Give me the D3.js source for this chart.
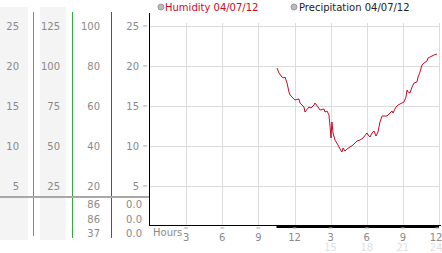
<!DOCTYPE html>
<html>
<head>
<meta charset="utf-8">
<script src="https://cdn.jsdelivr.net/npm/d3@7"></script>
<style>
  body { margin: 0; background: #fff; }
  svg { display: block; font-family: "DejaVu Sans", Verdana, sans-serif; }
</style>
</head>
<body>
<svg id="chart"></svg>
<script>
// humidity readings for 04/07/12 (hour of day, percent)
const humHours = [10.55,10.71,10.96,11.13,11.21,11.38,11.54,11.63,11.88,12.04,12.37,12.46,12.79,12.87,13.20,13.37,13.62,13.70,13.95,14.12,14.45,14.53,14.70,14.78,14.86,14.95,15.03,15.11,15.20,15.36,15.61,15.78,15.94,16.03,16.19,16.36,16.61,16.86,17.19,17.44,17.69,18.02,18.11,18.27,18.44,18.60,18.77,18.93,19.10,19.27,19.35,19.68,19.85,20.10,20.18,20.43,20.60,20.93,21.09,21.26,21.35,21.43,21.59,21.76,21.93,22.17,22.26,22.42,22.59,22.75,23.00,23.09,23.42,23.58,23.83]
const humValues = [79,76.5,74.5,74,74.5,71.5,67,65.5,64,63,63.5,61.5,59.5,57,59.5,59,60.5,61.5,59.5,58,58.5,57,57.5,56.5,55.5,50,44,52,46.5,43,40.5,38.5,37,39,37.5,38.5,39.5,40.5,42.5,43,44,46.5,45.5,44.5,46.5,47.5,45,47,52,55,55,55,56,57.5,56.5,59.5,60.5,61.5,62,64.5,68,67,66.5,69.5,71.5,72,74.5,77,80.5,81.5,82.5,84,85,85.5,86]

// precipitation (flat zero)
const precipHours = [10.5, 24]
const precipValues = [0, 0]

// axis columns
const col1Ticks = [5, 10, 15, 20, 25]
const col2Ticks = [25, 50, 75, 100, 125]
const col3Ticks = [20, 40, 60, 80, 100]
const col4Ticks = [5, 10, 15, 20, 25]
const humSummary = ["86", "86", "37"]
const precipSummary = ["0.0", "0.0", "0.0"]

const hourTicks = [3, 6, 9, 12, 15, 18, 21, 24]
const hourLabels = ["3", "6", "9", "12", "3", "6", "9", "12"]
const pmLabels = ["", "", "", "", "15", "18", "21", "24"]

const w = 442
const h = 253

const svg = d3.select('#chart').attr('width', w).attr('height', h)

const xScale = d3.scaleLinear().domain([0, 24]).range([150, 439])
const yScale = d3.scaleLinear().domain([0, 25]).range([226, 26])
const scale2 = d3.scaleLinear().domain([0, 125]).range([226, 26])
const humScale = d3.scaleLinear().domain([0, 100]).range([226, 26])

const grey = '#8a8a8a'

// left panel backgrounds
svg.append('rect').attr('x', 0).attr('y', 7).attr('width', 28).attr('height', 233).attr('fill', '#f4f4f4')
svg.append('rect').attr('x', 40).attr('y', 7).attr('width', 26).attr('height', 233).attr('fill', '#f4f4f4')

// coloured separators
const seps = [[33, '#2fa6d0', 236], [72, '#2bb03a', 238], [111, '#c2262e', 238]]
seps.forEach(s => {
  svg.append('line').attr('x1', s[0] + 0.5).attr('x2', s[0] + 0.5)
    .attr('y1', 12).attr('y2', s[2]).attr('stroke', s[1]).attr('stroke-width', 1)
})

// grey horizontal divider across panels
svg.append('line').attr('x1', 0).attr('x2', 150).attr('y1', 197).attr('y2', 197)
  .attr('stroke', '#a8a8a8').attr('stroke-width', 2)

let tickCol = (ticks, scale, xRight) => {
  svg.selectAll(null).data(ticks).enter().append('text')
    .attr('x', xRight).attr('y', d => scale(d))
    .attr('dy', '0.35em').attr('text-anchor', 'end')
    .attr('font-size', 10).attr('fill', grey)
    .text(d => d)
}
tickCol(col1Ticks, yScale, 19)
tickCol(col2Ticks, scale2, 60)
tickCol(col3Ticks, humScale, 100)
tickCol(col4Ticks, yScale, 139)

// little tick marks next to the last column
svg.selectAll(null).data(col4Ticks).enter().append('text')
  .attr('x', 145).attr('y', d => yScale(d)).attr('dy', '0.35em')
  .attr('text-anchor', 'middle').attr('font-size', 6).attr('fill', '#aaa')
  .text('≈')

// summary rows
const rowY = [204, 219, 233]
svg.selectAll(null).data(humSummary).enter().append('text')
  .attr('x', 100).attr('y', (d, i) => rowY[i]).attr('dy', '0.35em')
  .attr('text-anchor', 'end').attr('font-size', 10).attr('fill', grey).text(d => d)
svg.selectAll(null).data(precipSummary).enter().append('text')
  .attr('x', 142).attr('y', (d, i) => rowY[i]).attr('dy', '0.35em')
  .attr('text-anchor', 'end').attr('font-size', 10).attr('fill', grey).text(d => d)

// grid
svg.selectAll(null).data(yScale.ticks(5).filter(d => d > 0)).enter().append('line')
  .attr('x1', 150).attr('x2', 440)
  .attr('y1', d => Math.round(yScale(d)) + 0.5).attr('y2', d => Math.round(yScale(d)) + 0.5)
  .attr('stroke', '#dcdcdc')
svg.selectAll(null).data(hourTicks).enter().append('line')
  .attr('x1', d => Math.round(xScale(d)) + 0.5).attr('x2', d => Math.round(xScale(d)) + 0.5)
  .attr('y1', 23).attr('y2', 226)
  .attr('stroke', '#dcdcdc')

// axis lines
svg.append('line').attr('x1', 149.5).attr('x2', 149.5).attr('y1', 13).attr('y2', 226)
  .attr('stroke', '#000')
svg.append('line').attr('x1', 149).attr('x2', 441).attr('y1', 225.5).attr('y2', 225.5)
  .attr('stroke', '#000')

// precipitation
let precipLine = d3.line().x((d, i) => xScale(precipHours[i])).y(d => yScale(d))
svg.append('path').attr('d', precipLine(precipValues))
  .attr('fill', 'none').attr('stroke', '#000').attr('stroke-width', 3)
  .attr('transform', 'translate(0,0.5)')

// humidity
let humLine = d3.line().x((d, i) => xScale(humHours[i])).y(d => humScale(d))
svg.append('path').attr('d', humLine(humValues))
  .attr('fill', 'none').attr('stroke', '#cc0a24').attr('stroke-width', 1)

// hour axis labels
svg.append('text').attr('x', 153).attr('y', 232).attr('dy', '0.35em')
  .attr('font-size', 10).attr('fill', grey).text('Hours')
svg.selectAll(null).data(hourTicks).enter().append('text')
  .attr('x', d => xScale(d) - (d === 24 ? 2 : 0)).attr('y', 229).attr('dy', '0.1em')
  .attr('text-anchor', 'middle').attr('font-size', 6).attr('fill', '#aaa').text('≈')
svg.selectAll(null).data(hourTicks).enter().append('text')
  .attr('x', d => xScale(d) - (d === 24 ? 3 : 0)).attr('y', 237.5).attr('dy', '0.35em')
  .attr('text-anchor', 'middle').attr('font-size', 10).attr('fill', grey)
  .text((d, i) => hourLabels[i])
svg.selectAll(null).data(hourTicks).enter().append('text')
  .attr('x', d => xScale(d) - (d === 24 ? 3 : 0)).attr('y', 247).attr('dy', '0.35em')
  .attr('text-anchor', 'middle').attr('font-size', 10).attr('fill', '#dedede')
  .text((d, i) => pmLabels[i])

// legend
svg.append('circle').attr('cx', 161).attr('cy', 7).attr('r', 3)
  .attr('fill', '#bbb').attr('stroke', '#999')
svg.append('text').attr('x', 165).attr('y', 7).attr('dy', '0.35em')
  .attr('font-size', 10).attr('fill', '#cc0a24').text('Humidity 04/07/12')
svg.append('circle').attr('cx', 294).attr('cy', 7).attr('r', 3)
  .attr('fill', '#bbb').attr('stroke', '#999')
svg.append('text').attr('x', 299).attr('y', 7).attr('dy', '0.35em')
  .attr('font-size', 10).attr('fill', '#222').text('Precipitation 04/07/12')
</script>
</body>
</html>
